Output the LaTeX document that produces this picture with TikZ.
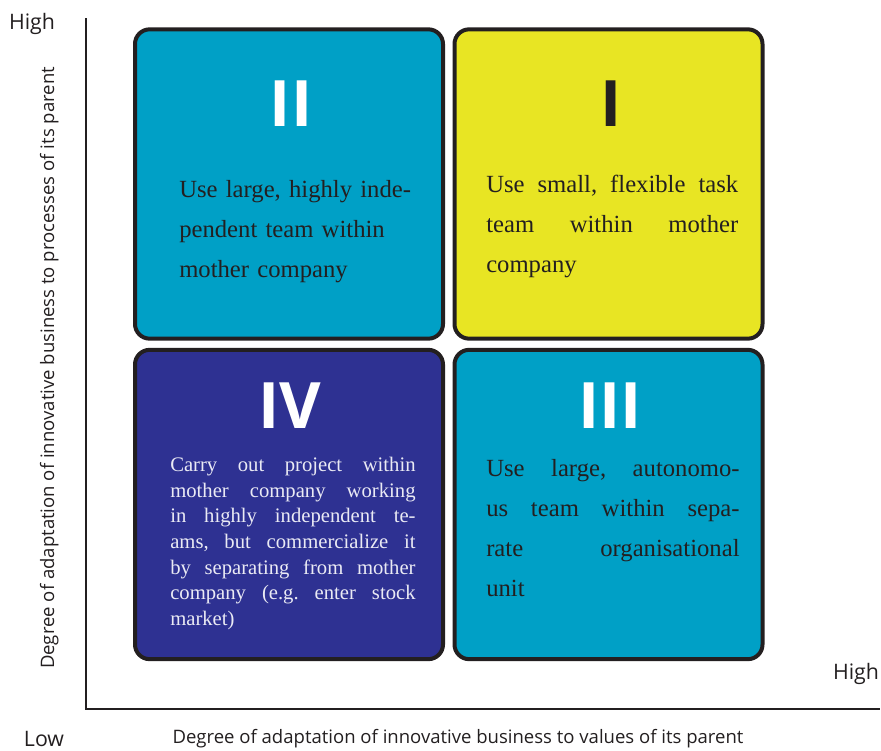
\documentclass[tikz,border=0pt]{standalone}
\usepackage{fontspec}
\setmainfont{Liberation Serif}
\newfontfamily\lblfont{Open Sans}
\usetikzlibrary{positioning}
\definecolor{qcyan}{RGB}{0,160,198}
\definecolor{qyellow}{RGB}{232,229,35}
\definecolor{qblue}{RGB}{46,49,146}
\definecolor{ink}{RGB}{35,31,32}
\definecolor{pale}{RGB}{234,234,244}
\newcommand\nohyph{\frenchspacing\hyphenpenalty10000\relax}
\tikzset{
  quad/.style  = {draw=ink, line width=3pt, rounded corners=11pt,
                  minimum width=231pt, minimum height=232pt, inner sep=0pt},
  numr/.style  = {font=\lblfont\bfseries\fontsize{48}{48}\selectfont,
                  inner sep=0pt, anchor=base},
  body/.style  = {font=\fontsize{18.5}{30}\selectfont\nohyph,
                  text=ink, inner sep=0pt, anchor=north west, align=justify},
  sbody/.style = {body, font=\fontsize{15.5}{19.2}\selectfont\nohyph, text=pale},
  axlbl/.style = {font=\lblfont\fontsize{16}{16}\selectfont, text=ink,
                  inner sep=0pt, anchor=base},
  axttl/.style = {font=\lblfont\fontsize{13.9}{13.9}\selectfont, text=ink,
                  inner sep=0pt, anchor=base},
  axis/.style  = {draw=ink, line width=2pt},
}
\begin{document}
\begin{tikzpicture}[x=0.75pt, y=-0.75pt]
  \useasboundingbox (0,0) rectangle (881,750);
  % quadrants
  \node[quad, fill=qcyan]   (q2) at (289,184)   {};
  \node[quad, fill=qyellow] (q1) at (608.5,184) {};
  \node[quad, fill=qblue]   (q4) at (289,504.5) {};
  \node[quad, fill=qcyan]   (q3) at (608.5,504.5) {};
  % roman numerals
  \node[numr, text=white] (n2) at (291,126) {II};
  \node[numr, text=ink]   (n1) at (611,126) {I};
  \node[numr, text=white] (n4) at (290,428) {IV};
  \node[numr, text=white] (n3) at (610,428) {III};
  % texts
  \node[body, align=left, text width=180pt] (t2) at (179,180)
    {Use large, highly inde-\\pendent team within\\mother company};
  \node[body, text width=189pt] (t1) at (486,175)
    {Use small, flexible task\linebreak team within mother\linebreak company};
  \node[body, text width=190pt] (t3) at (486,459)
    {Use large, autonomo-\linebreak us team within sepa-\linebreak
     rate organisational\linebreak unit};
  \node[sbody, text width=184pt] (t4) at (170,457)
    {Carry out project within\linebreak mother company working\linebreak
     in highly independent te-\linebreak ams, but commercialize it\linebreak
     by separating from mother\linebreak company (e.g. enter stock\linebreak
     market)};
  % axes
  \coordinate (origin) at (86,709);
  \coordinate (ytop) at (86,18);
  \coordinate (xend) at (880,709);
  \draw[axis] (ytop) -- (origin) -- (xend);
  \node[axlbl] (yhigh) at (32,29) {High};
  \node[axlbl] (xhigh) at (856,679) {High};
  \node[axlbl] (low) at (44,746) {Low};
  \node[axttl] (xttl) at (458,743)
    {Degree of adaptation of innovative business to values of its parent};
  \node[axttl, rotate=90] (yttl) at (54,368)
    {Degree of adaptation of innovative business to processes of its parent};
\end{tikzpicture}
\end{document}
